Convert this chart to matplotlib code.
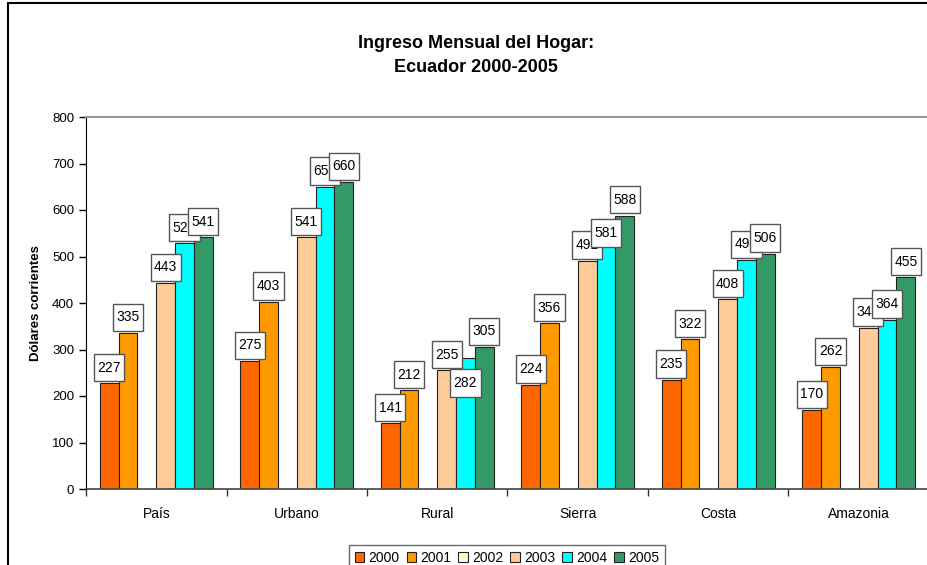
import matplotlib.pyplot as plt
import matplotlib.patches as mpatches
from matplotlib.path import Path
import numpy as np

plt.rcParams['font.family'] = ['Liberation Sans', 'DejaVu Sans']

# Data
categories = ['País', 'Urbano', 'Rural', 'Sierra', 'Costa', 'Amazonia']
years = ['2000', '2001', '2002', '2003', '2004', '2005']
v2000 = [227, 275, 141, 224, 235, 170]
v2001 = [335, 403, 212, 356, 322, 262]
v2002 = [np.nan] * 6  # no data for 2002
v2003 = [443, 541, 255, 491, 408, 347]
v2004 = [528, 650, 282, 581, 492, 364]
v2005 = [541, 660, 305, 588, 506, 455]
series = [v2000, v2001, v2002, v2003, v2004, v2005]
colors = ['#FF6600', '#FF9900', '#FFFFCC', '#FFCC99', '#00FFFF', '#339966']

# a few labels were dragged down onto the bar in the original (series, category) -> points
moved = {(4, 2): -23.2, (4, 3): -15.3}


def label_box(x0, y0, width, height, mutation_size):
    # taller than wide padding, like the Excel label boxes
    px, py = 0.245 * mutation_size, 0.48 * mutation_size
    return Path([(x0 - px, y0 - py), (x0 + width + px, y0 - py),
                 (x0 + width + px, y0 + height + py), (x0 - px, y0 + height + py),
                 (x0 - px, y0 - py)], closed=True)


fig = plt.figure(figsize=(9.28, 5.65), dpi=100)
ax = fig.add_axes([86 / 928, 76 / 565, 843 / 928, 372 / 565])

x = np.arange(len(categories))
w = 0.134
for j, (vals, col, yr) in enumerate(zip(series, colors, years)):
    pos = x + (j - 2.5) * w
    ax.bar(pos, vals, width=w, color=col, edgecolor='#222222', linewidth=0.8,
           label=yr, zorder=2)
    for i, (px, v) in enumerate(zip(pos, vals)):
        if np.isnan(v):
            continue
        dy = moved.get((j, i), 6.3)
        ax.annotate(f'{v:.0f}', (px, v), xytext=(0, dy), textcoords='offset points',
                    ha='center', va='bottom', fontsize=10,
                    bbox=dict(boxstyle=label_box, fc='white', ec='#555555', lw=1),
                    zorder=5)

ax.set_xlim(-0.5, 5.5)
ax.set_ylim(0, 800)
ax.set_yticks(range(0, 801, 100))
ax.tick_params(axis='y', labelsize=9.5, length=5, direction='out', width=1)
ax.set_xticks(np.arange(-0.5, 6, 1))
ax.set_xticklabels([])
ax.set_xticks(x, minor=True)
ax.set_xticklabels(categories, minor=True, fontsize=10)
ax.tick_params(axis='x', which='major', length=5, width=1, color='#333333')
ax.tick_params(axis='x', which='minor', length=0, pad=13)

ax.spines['right'].set_visible(False)
ax.spines['top'].set_color('#999999')
ax.spines['top'].set_linewidth(1.5)
ax.spines['left'].set_color('black')
ax.spines['bottom'].set_color('#444444')
ax.spines['bottom'].set_linewidth(1.2)

ax.set_ylabel('Dólares corrientes', fontsize=9.5, fontweight='bold')
ax.yaxis.set_label_coords(-0.052, 0.5)

fig.text(476 / 928, 1 - 43 / 565, 'Ingreso Mensual del Hogar:', ha='center', va='center',
         fontsize=13, fontweight='bold')
fig.text(476 / 928, 1 - 67 / 565, 'Ecuador 2000-2005', ha='center', va='center',
         fontsize=13, fontweight='bold')

leg = fig.legend(loc='upper center', bbox_to_anchor=(507 / 928, 1 - 538 / 565), ncol=6,
                 fontsize=10, frameon=True, fancybox=False, edgecolor='#444444',
                 handlelength=0.7, handleheight=0.7, handletextpad=0.3,
                 columnspacing=0.5, borderpad=0.4)
leg.get_frame().set_linewidth(1)

# outer chart border
fig.patches.append(mpatches.Rectangle((8 / 928, -0.1), 1.2, 1.1 - 3 / 565, transform=fig.transFigure,
                                      fill=False, ec='black', lw=1.5))

fig.savefig('out.png', dpi=100)
